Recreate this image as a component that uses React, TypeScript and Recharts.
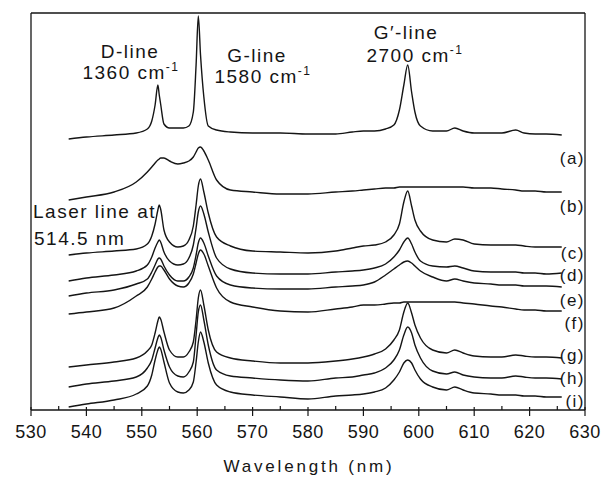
import React from "react";
import { LineChart, Line, XAxis, YAxis, ReferenceLine } from "recharts";

// wavelength grid (nm), denser around the D, G and G' bands
const wavelength = [
  536.8, 540, 545, 549, 551, 551.8, 552.4, 552.9, 553.15, 553.4,
  554, 555, 556.5, 557.5, 558.5, 559.3, 559.8, 560.2, 560.6, 561.2,
  562, 563.5, 566, 570, 575, 580, 585, 588, 590, 592,
  594, 595.5, 596.5, 597.3, 598, 598.7, 599.3, 600.3, 602.5, 605,
  606.5, 608, 610, 613, 615, 617.5, 619, 621, 623, 625.8,
];

// intensities (arb. units, curves already offset as in the figure)
const specA = [
  271, 273, 275, 277, 281, 289, 305, 325, 315, 306,
  286, 282, 282, 282, 284, 298, 345, 394, 355, 313,
  284, 280, 278, 277, 277, 276, 276, 278, 279, 279,
  281, 285, 300, 325, 345, 318, 298, 284, 279, 279,
  282, 279, 277, 277, 277, 280, 277, 276, 276, 275,
];
const specB = [
  210, 213, 218, 228, 238, 243, 247, 250, 251, 252,
  252, 249, 246, 247, 249, 253, 258, 262, 263, 259,
  250, 230, 220, 218, 216, 216, 218, 219, 220, 221,
  222, 222, 223, 223, 223, 223, 223, 223, 223, 223,
  223, 223, 222, 222, 221, 220, 219, 219, 218, 218,
];
const specC = [
  155, 157, 159, 161, 166, 174, 186, 200, 205, 201,
  180, 168, 163, 164, 170, 184, 205, 224, 231, 218,
  197, 173, 164, 159, 158, 157, 159, 162, 164, 165,
  168, 175, 186, 208, 219, 204, 190, 179, 170, 168,
  171, 170, 166, 165, 165, 165, 164, 163, 163, 163,
];
const specD = [
  129, 132, 135, 139, 145, 153, 162, 168, 170, 168,
  158, 149, 145, 146, 152, 165, 182, 198, 204, 196,
  178, 152, 141, 137, 136, 136, 138, 139, 140, 142,
  146, 153, 160, 168, 172, 166, 158, 149, 144, 143,
  144, 142, 139, 138, 138, 138, 137, 137, 136, 137,
];
const specE = [
  114, 117, 120, 126, 131, 138, 145, 151, 152, 151,
  144, 135, 129, 129, 133, 142, 155, 167, 172, 167,
  154, 134, 125, 122, 121, 121, 123, 124, 125, 128,
  135, 141, 145, 148, 149, 147, 144, 139, 133, 129,
  131, 129, 127, 126, 125, 125, 124, 124, 124, 123,
];
const specF = [
  96, 98, 102, 114, 123, 131, 138, 143, 144, 144,
  140, 131, 124, 123, 127, 136, 147, 156, 160, 156,
  144, 122, 108, 103, 99, 98, 101, 103, 105, 105,
  106, 107, 107, 108, 108, 108, 108, 108, 108, 108,
  108, 107, 106, 104, 103, 101, 100, 100, 99, 99,
];
const specG = [
  43, 45, 48, 52, 59, 65, 77, 89, 93, 91,
  78, 60, 53, 53, 58, 68, 90, 112, 120, 105,
  80, 58, 52, 49, 47, 47, 49, 51, 53, 56,
  61, 70, 80, 98, 107, 97, 85, 72, 60, 57,
  60, 57, 54, 53, 53, 55, 54, 53, 53, 52,
];
const specH = [
  23, 26, 29, 33, 42, 50, 62, 72, 75, 73,
  60, 43, 34, 33, 38, 48, 75, 98, 105, 90,
  65, 40, 34, 32, 30, 29, 32, 33, 35, 37,
  42, 50, 60, 75, 83, 77, 65, 52, 39, 36,
  38, 35, 33, 32, 32, 34, 33, 32, 32, 31,
];
const specI = [
  3, 6, 10, 16, 24, 35, 50, 60, 63, 61,
  48, 27, 18, 17, 20, 28, 48, 68, 78, 68,
  47, 25, 18, 15, 13, 11, 14, 15, 16, 18,
  22, 30, 38, 47, 50, 47, 40, 31, 23, 20,
  23, 20, 17, 16, 15, 15, 14, 14, 13, 13,
];

const seriesKeys = ["a", "b", "c", "d", "e", "f", "g", "h", "i"];
const seriesValues = [specA, specB, specC, specD, specE, specF, specG, specH, specI];

const xTicks = [
  530, 535, 540, 545, 550, 555, 560, 565, 570, 575, 580,
  585, 590, 595, 600, 605, 610, 615, 620, 625, 630,
];

const curveLabels = [
  { text: "(a)", y: 164 },
  { text: "(b)", y: 212 },
  { text: "(c)", y: 259 },
  { text: "(d)", y: 281 },
  { text: "(e)", y: 306 },
  { text: "(f)", y: 329 },
  { text: "(g)", y: 361 },
  { text: "(h)", y: 384 },
  { text: "(i)", y: 407 },
];

const data = wavelength.map((w, i) => {
  const row: Record<string, number> = { w };
  seriesKeys.forEach((k, j) => {
    row[k] = seriesValues[j][i];
  });
  return row;
});

const FONT = "'Liberation Sans', Arial, Helvetica, sans-serif";
const INK = "#151515";

function WaveTick(props: any) {
  const { x, y, payload } = props;
  const major = payload.value % 10 === 0;
  return (
    <g>
      {major ? (
        <line x1={x} x2={x} y1={y - 3} y2={y + 6} stroke={INK} strokeWidth={1.2} />
      ) : (
        <line x1={x} x2={x} y1={y - 4} y2={y} stroke={INK} strokeWidth={1.2} />
      )}
      {major && (
        <text x={x} y={y + 28} textAnchor="middle" fontSize={18} letterSpacing={0.5} fill={INK} fontFamily={FONT}>
          {payload.value}
        </text>
      )}
    </g>
  );
}

function Annotations() {
  const t = { fontFamily: FONT, fontSize: 19, fill: INK, letterSpacing: 1.5 };
  return (
    <svg
      width={607}
      height={480}
      style={{ position: "absolute", left: 0, top: 0, pointerEvents: "none" }}
    >
      <text x={130} y={58} textAnchor="middle" {...t}>D-line</text>
      <text x={131} y={79} textAnchor="middle" {...t}>
        1360 cm<tspan fontSize={12} dy={-8}>-1</tspan>
      </text>
      <text x={257} y={62} textAnchor="middle" {...t}>G-line</text>
      <text x={263} y={83} textAnchor="middle" {...t}>
        1580 cm<tspan fontSize={12} dy={-8}>-1</tspan>
      </text>
      <text x={406} y={39} textAnchor="middle" {...t}>G′-line</text>
      <text x={415} y={62} textAnchor="middle" {...t}>
        2700 cm<tspan fontSize={12} dy={-8}>-1</tspan>
      </text>
      <text x={33} y={218} {...t}>Laser line at</text>
      <text x={34} y={245} {...t}>514.5 nm</text>
      {curveLabels.map((l) => (
        <text key={l.text} x={585} y={l.y} textAnchor="end" fontFamily={FONT} fontSize={17} letterSpacing={1.5} fill={INK}>
          {l.text}
        </text>
      ))}
      <text x={309} y={472} textAnchor="middle" fontFamily={FONT} fontSize={17} letterSpacing={2.8} fill={INK}>
        Wavelength (nm)
      </text>
    </svg>
  );
}

export default function App() {
  return (
    <div style={{ position: "absolute", left: 0, top: 0, width: 607, height: 480, background: "#fff" }}>
      <LineChart
        width={607}
        height={480}
        data={data}
        margin={{ top: 13, right: 22, left: 31, bottom: 0 }}
      >
        <XAxis
          dataKey="w"
          type="number"
          domain={[530, 630]}
          ticks={xTicks}
          interval={0}
          height={70}
          tickLine={false}
          tickSize={0}
          tickMargin={0}
          tick={<WaveTick />}
          axisLine={{ stroke: INK, strokeWidth: 1.3 }}
        />
        <YAxis hide type="number" domain={[0, 397]} />
        <ReferenceLine x={530} stroke={INK} strokeWidth={1.3} />
        <ReferenceLine x={630} stroke={INK} strokeWidth={1.3} />
        <ReferenceLine y={397} stroke={INK} strokeWidth={1.3} />
        {seriesKeys.map((k) => (
          <Line
            key={k}
            dataKey={k}
            type="monotone"
            stroke={INK}
            strokeWidth={1.4}
            dot={false}
            isAnimationActive={false}
          />
        ))}
      </LineChart>
      <Annotations />
    </div>
  );
}
